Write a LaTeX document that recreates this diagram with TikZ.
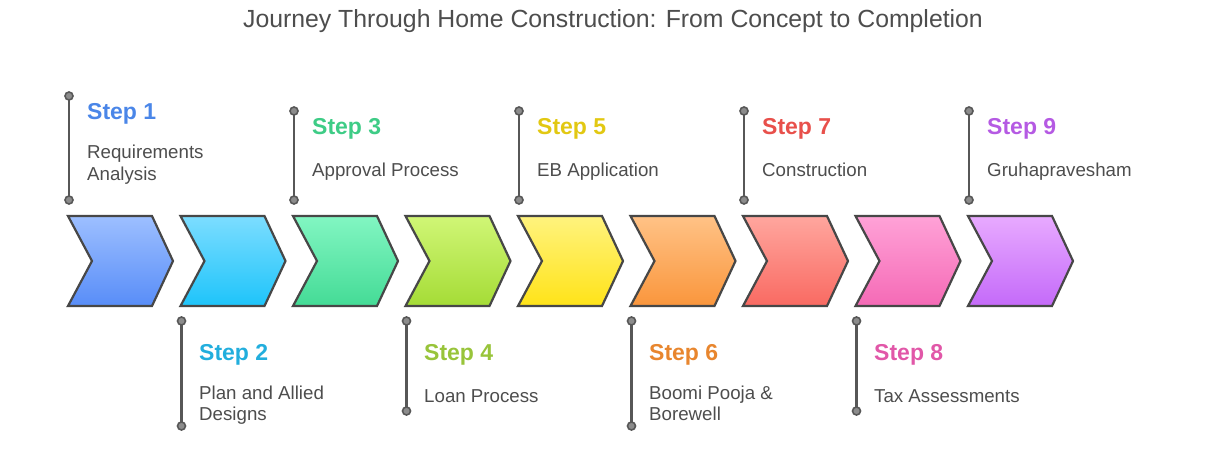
\documentclass[tikz,border=0pt]{standalone}
\usepackage{fontspec}
\setmainfont{Liberation Sans}
\definecolor{inkline}{HTML}{474747}
\definecolor{stemline}{HTML}{575757}
\definecolor{dotfill}{HTML}{8C8C8C}
\definecolor{txt}{HTML}{4D4D4D}
\definecolor{aT}{HTML}{9DBFFF}\definecolor{aB}{HTML}{588DF8}\definecolor{aX}{HTML}{4A86E8}
\definecolor{bT}{HTML}{7CDDFF}\definecolor{bB}{HTML}{1EC4FA}\definecolor{bX}{HTML}{22AEDD}
\definecolor{cT}{HTML}{82F6C2}\definecolor{cB}{HTML}{44DB96}\definecolor{cX}{HTML}{3ECC86}
\definecolor{dT}{HTML}{D0F676}\definecolor{dB}{HTML}{A5DC36}\definecolor{dX}{HTML}{98C43A}
\definecolor{eT}{HTML}{FFF37E}\definecolor{eB}{HTML}{FFE318}\definecolor{eX}{HTML}{E2C812}
\definecolor{fT}{HTML}{FFC286}\definecolor{fB}{HTML}{FA963C}\definecolor{fX}{HTML}{E8862E}
\definecolor{gT}{HTML}{FFA69E}\definecolor{gB}{HTML}{F96A62}\definecolor{gX}{HTML}{E8504B}
\definecolor{hT}{HTML}{FFA2D7}\definecolor{hB}{HTML}{F56AB6}\definecolor{hX}{HTML}{E157A8}
\definecolor{iT}{HTML}{E8AAFF}\definecolor{iB}{HTML}{C46AF9}\definecolor{iX}{HTML}{B55AE3}
\begin{document}
\begin{tikzpicture}[x=1pt,y=-1pt,
  chev/.style={draw=inkline, line width=2.2pt, line join=miter},
  stem/.style={draw=stemline, line width=2.6pt},
  dot/.style={circle, draw=stemline, fill=dotfill, line width=1.6pt, minimum size=8pt, inner sep=0pt},
  steptitle/.style={font=\fontsize{23}{27}\selectfont\bfseries, anchor=base west, inner sep=0pt},
  desc/.style={font=\fontsize{18.7}{22}\selectfont, text=txt, anchor=base west, inner sep=0pt},
  headline/.style={font=\fontsize{24.8}{28}\selectfont, text=txt, anchor=base, inner sep=0pt}]
\useasboundingbox (0,0) rectangle (1225,454);
\node[headline] (title) at (613,28) {Journey Through Home Construction: From Concept to Completion};
% chevrons
\foreach \i/\ct/\cb in {0/aT/aB,1/bT/bB,2/cT/cB,3/dT/dB,4/eT/eB,5/fT/fB,6/gT/gB,7/hT/hB,8/iT/iB}{
  \pgfmathsetmacro{\cx}{68+112.5*\i}
  \path[chev, top color=\ct, bottom color=\cb] (\cx,216) -- ++(84,0) -- ++(21,45) -- ++(-21,45) -- ++(-84,0) -- ++(24,-45) -- cycle;
}
% top stems
\foreach \i/\ty in {0/96,2/111,4/111,6/111,8/111}{
  \pgfmathsetmacro{\lx}{69+112.5*\i}
  \coordinate (ta\i) at (\lx,\ty);
  \coordinate (tb\i) at (\lx,200);
  \draw[stem] (ta\i) -- (tb\i);
  \node[dot] (tda\i) at (ta\i) {};
  \node[dot] (tdb\i) at (tb\i) {};
}
% bottom stems
\foreach \i/\by in {1/426,3/411,5/426,7/411}{
  \pgfmathsetmacro{\lx}{69+112.5*\i}
  \coordinate (ba\i) at (\lx,321);
  \coordinate (bb\i) at (\lx,\by);
  \draw[stem] (ba\i) -- (bb\i);
  \node[dot] (bda\i) at (ba\i) {};
  \node[dot] (bdb\i) at (bb\i) {};
}
% texts top
\node[steptitle, text=aX] (s1) at (87,120) {Step 1};
\node[desc] (d1a) at (87,159) {Requirements};
\node[desc] (d1b) at (87,181) {Analysis};
\node[steptitle, text=cX] (s3) at (312,135) {Step 3};
\node[desc] (d3) at (312,177) {Approval Process};
\node[steptitle, text=eX] (s5) at (537,135) {Step 5};
\node[desc] (d5) at (537,177) {EB Application};
\node[steptitle, text=gX] (s7) at (762,135) {Step 7};
\node[desc] (d7) at (762,177) {Construction};
\node[steptitle, text=iX] (s9) at (987,135) {Step 9};
\node[desc] (d9) at (987,177) {Gruhapravesham};
% texts bottom
\node[steptitle, text=bX] (s2) at (199,360) {Step 2};
\node[desc] (d2a) at (199,399) {Plan and Allied};
\node[desc] (d2b) at (199,420) {Designs};
\node[steptitle, text=dX] (s4) at (424,360) {Step 4};
\node[desc] (d4) at (424,402) {Loan Process};
\node[steptitle, text=fX] (s6) at (649,360) {Step 6};
\node[desc] (d6a) at (649,399) {Boomi Pooja \&};
\node[desc] (d6b) at (649,420) {Borewell};
\node[steptitle, text=hX] (s8) at (874,360) {Step 8};
\node[desc] (d8) at (874,402) {Tax Assessments};
\end{tikzpicture}
\end{document}
